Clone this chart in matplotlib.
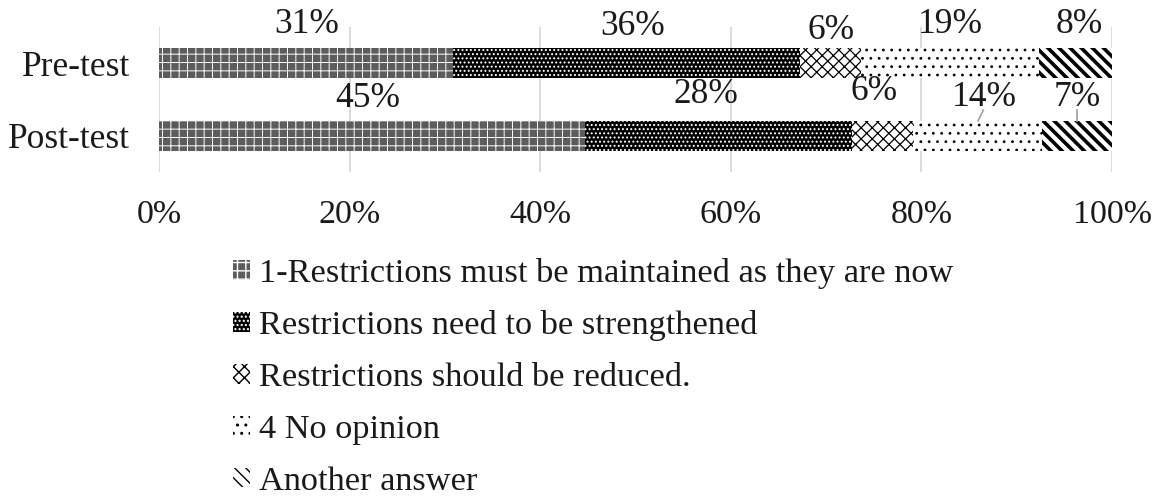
import matplotlib
matplotlib.use("Agg")
import matplotlib.pyplot as plt
import numpy as np

# ---- data ----
groups = ["Pre-test", "Post-test"]
series_names = [
    "1-Restrictions must be maintained as they are now",
    "Restrictions need to be strengthened",
    "Restrictions should be reduced.",
    "4 No opinion",
    "Another answer",
]
pre_values = [30.9, 36.4, 6.4, 18.6, 7.7]
post_values = [44.7, 28.0, 6.4, 13.6, 7.3]
pre_labels = ["31%", "36%", "6%", "19%", "8%"]
post_labels = ["45%", "28%", "6%", "14%", "7%"]
x_ticks = [0, 20, 40, 60, 80, 100]
x_tick_labels = ["0%", "20%", "40%", "60%", "80%", "100%"]

# ---- styles ----
BS = chr(92)
styles = [
    dict(facecolor="#5c5c5c", edgecolor="white", hatch="++", hlw=0.7),
    dict(facecolor="black", edgecolor="white", hatch="....", hlw=0.9),
    dict(facecolor="white", edgecolor="black", hatch="xxx", hlw=0.9),
    dict(facecolor="white", edgecolor="black", hatch="..", hlw=0.8),
    dict(facecolor="white", edgecolor="black", hatch=BS * 3, hlw=2.6),
]
# label placement (layout only): x offsets and baseline y in data units
pre_dx = [0.0, 0.6, 0.0, 0.0, 0.4]
post_dx = [-0.4, -1.3, -0.9, 0.7, 0.0]
pre_ly = [1.417, 1.39, 1.334, 1.417, 1.417]
post_ly = [0.397, 0.452, 0.493, 0.410, 0.410]

FONT = "Liberation Serif"
plt.rcParams["font.family"] = [FONT, "DejaVu Serif"]

fig = plt.figure(figsize=(11.62, 5.01), dpi=100)
W, H = 1162, 501
ax = fig.add_axes([159 / W, 1 - 172 / H, (1112 - 159) / W, 145 / H])

ypos = {"Pre-test": 1, "Post-test": 0}
values = {"Pre-test": pre_values, "Post-test": post_values}
bar_h = 0.41

handles = []
for gi, g in enumerate(groups):
    left = 0.0
    for si, v in enumerate(values[g]):
        st = styles[si]
        rects = ax.barh(ypos[g], v, left=left, height=bar_h,
                        facecolor=st["facecolor"], edgecolor=st["edgecolor"],
                        hatch=st["hatch"], linewidth=0,
                        label=series_names[si] if gi == 0 else None)
        for r in rects:
            if hasattr(r, "set_hatch_linewidth"):
                r.set_hatch_linewidth(st["hlw"])
        if gi == 0:
            handles.append(rects)
        left += v

# data labels
for g, labs, dxs, lys in [("Pre-test", pre_labels, pre_dx, pre_ly),
                          ("Post-test", post_labels, post_dx, post_ly)]:
    vals = values[g]
    cum = np.cumsum([0] + vals)
    for i, lab in enumerate(labs):
        cx = (cum[i] + cum[i + 1]) / 2 + dxs[i]
        ax.text(cx, lys[i], lab, ha="center", va="baseline",
                fontsize=25.5, color="#1a1a1a", clip_on=False)

# leader lines for small post-test labels
cum_post = np.cumsum([0] + post_values)
c14 = (cum_post[3] + cum_post[4]) / 2
c7 = (cum_post[4] + cum_post[5]) / 2
ax.plot([c14 + 0.6, c14 + 0.05], [0.355, 0.207], color="#a6a6a6", lw=1.3, clip_on=False)
ax.plot([c7 - 0.05, c7 - 0.05], [0.355, 0.207], color="#a6a6a6", lw=1.3, clip_on=False)

ax.set_xlim(0, 100)
ax.set_ylim(-0.5, 1.5)
ax.set_xticks(x_ticks)
ax.set_xticklabels(x_tick_labels, fontsize=24.5, color="#1a1a1a")
ax.set_yticks([ypos[g] for g in groups])
ax.set_yticklabels(groups, fontsize=25.5, color="#1a1a1a")
ax.tick_params(axis="x", length=0, pad=19.5)
ax.tick_params(axis="y", length=0, pad=21)
ax.xaxis.grid(True, color="#d9d9d9", linewidth=1.3)
ax.set_axisbelow(True)
for s in ax.spines.values():
    s.set_visible(False)

leg = fig.legend(handles=handles, labels=series_names,
                 loc="upper left", bbox_to_anchor=(233 / W, 1 - 258 / H),
                 frameon=False, fontsize=24.75, handlelength=0.5, handleheight=0.5,
                 handletextpad=0.26, labelspacing=0.62, borderpad=0, borderaxespad=0)
for t in leg.get_texts():
    t.set_color("#1a1a1a")

fig.savefig("out.png", dpi=100)
